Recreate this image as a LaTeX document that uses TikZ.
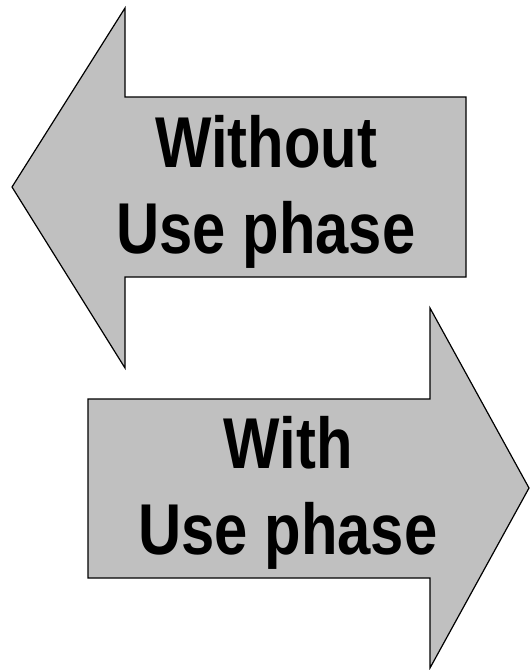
\documentclass[tikz,border=0pt]{standalone}
\usepackage{fontspec}
\setmainfont{Liberation Sans}[FakeStretch=0.83]
\definecolor{arrowgray}{RGB}{192,192,192}
\begin{document}
\begin{tikzpicture}[x=1pt, y=-1pt,
    bigarrow/.style={draw=black, line width=1.2pt, fill=arrowgray, line join=miter},
    arrowtext/.style={align=center, font=\fontsize{72}{86}\selectfont\bfseries, inner sep=0pt}]
        \useasboundingbox (0,0) rectangle (531,670);

        % Left arrow (without use phase)
        \draw[bigarrow] (12,187) -- (125,8) -- (125,97) -- (466,97) -- (466,277) -- (125,277) -- (125,368) -- cycle;

        % Right arrow (with use phase)
        \draw[bigarrow] (529,488) -- (430,308) -- (430,399) -- (88,399) -- (88,578) -- (430,578) -- (430,668) -- cycle;

        % Labels
        \node[arrowtext] (without) at (266,192) {Without\\Use phase};
        \node[arrowtext] (with) at (288,493) {With\\Use phase};
    \end{tikzpicture}
\end{document}
